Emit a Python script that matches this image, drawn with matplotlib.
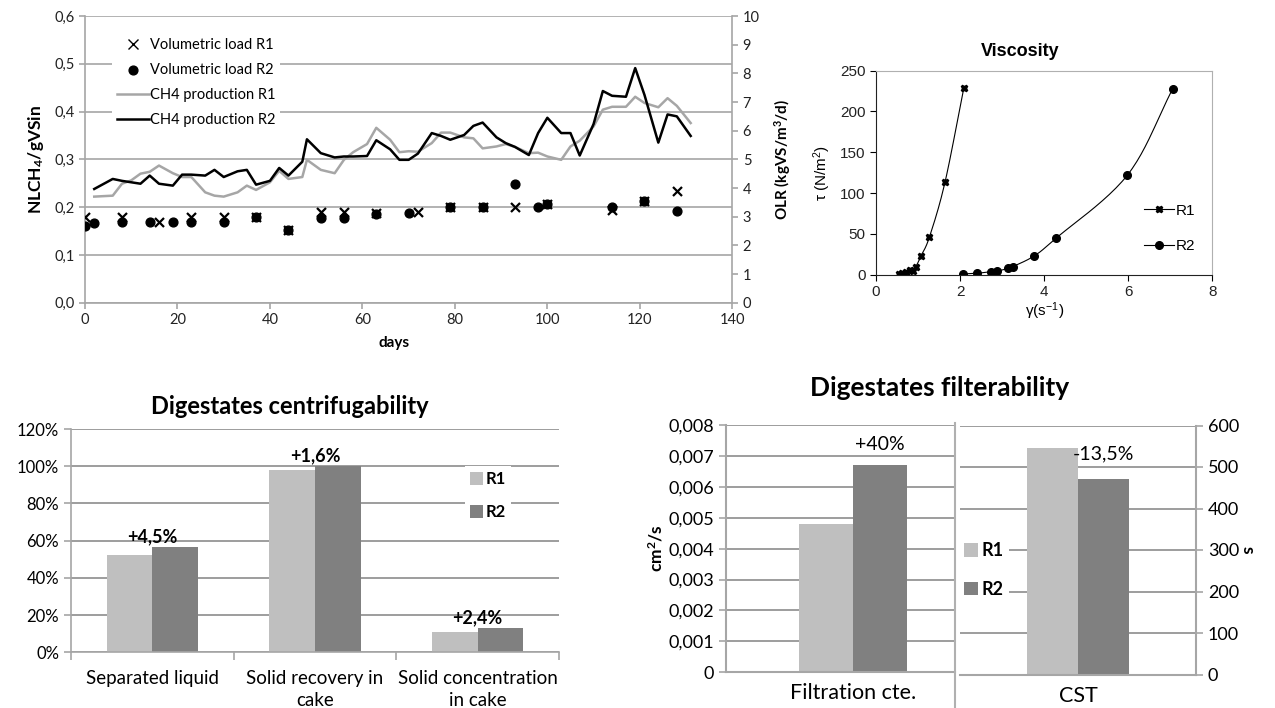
import matplotlib
matplotlib.use('Agg')
import matplotlib.pyplot as plt
import numpy as np
from matplotlib.ticker import FuncFormatter, MultipleLocator
from matplotlib.lines import Line2D

plt.rcParams['font.family'] = ['Lato', 'DejaVu Sans']
plt.rcParams['mathtext.default'] = 'regular'

# methane production (NL CH4 / g VS in)
days = [2, 6, 8, 10, 12, 14, 16, 19, 21, 23, 26, 28, 30, 33, 35, 37, 40, 42, 44, 47,
        48, 51, 54, 56, 58, 61, 63, 66, 68, 70, 72, 75, 77, 79, 82, 84, 86, 89, 91, 93,
        96, 98, 100, 103, 105, 107, 110, 112, 114, 117, 119, 121, 124, 126, 128, 131]
ch4_r1 = [0.222, 0.224, 0.249, 0.256, 0.270, 0.274, 0.287, 0.271, 0.263, 0.263, 0.231,
          0.224, 0.222, 0.231, 0.245, 0.236, 0.252, 0.276, 0.259, 0.263, 0.299, 0.278,
          0.271, 0.299, 0.315, 0.332, 0.366, 0.341, 0.315, 0.317, 0.316, 0.334, 0.356,
          0.356, 0.346, 0.344, 0.323, 0.327, 0.332, 0.326, 0.313, 0.314, 0.306, 0.299,
          0.327, 0.339, 0.369, 0.404, 0.410, 0.410, 0.431, 0.418, 0.409, 0.428, 0.412,
          0.376]
ch4_r2 = [0.238, 0.259, 0.255, 0.252, 0.249, 0.266, 0.249, 0.245, 0.268, 0.268, 0.266,
          0.278, 0.263, 0.275, 0.278, 0.247, 0.255, 0.282, 0.266, 0.295, 0.342, 0.313,
          0.304, 0.306, 0.306, 0.307, 0.340, 0.321, 0.299, 0.299, 0.312, 0.355, 0.349,
          0.341, 0.351, 0.370, 0.377, 0.346, 0.334, 0.326, 0.309, 0.355, 0.387, 0.355,
          0.355, 0.308, 0.374, 0.443, 0.433, 0.431, 0.491, 0.435, 0.335, 0.394, 0.390,
          0.349]

# organic loading rate (kgVS/m3/d)
olr_days_r1 = [0, 8, 16, 23, 30, 37, 44, 51, 56, 63, 72, 79, 86, 93, 100, 114, 121, 128]
olr_r1 = [2.98, 3.00, 2.83, 3.00, 3.00, 3.00, 2.52, 3.16, 3.16, 3.12, 3.15, 3.35, 3.35,
          3.35, 3.44, 3.23, 3.55, 3.90]
olr_days_r2 = [0, 2, 8, 14, 19, 23, 30, 37, 44, 51, 56, 63, 70, 79, 86, 93, 98, 100,
               114, 121, 128]
olr_r2 = [2.68, 2.77, 2.83, 2.83, 2.83, 2.83, 2.83, 3.00, 2.52, 2.94, 2.96, 3.10, 3.12,
          3.33, 3.33, 4.13, 3.33, 3.44, 3.35, 3.55, 3.21]

# rheogram
shear_r1 = [0.55, 0.62, 0.72, 0.80, 0.87, 0.95, 1.07, 1.27, 1.64, 2.09]
stress_r1 = [0.5, 1.5, 3.0, 5.5, 5.0, 10.0, 23.0, 46.0, 113.0, 229.0]
shear_r2 = [2.06, 2.40, 2.73, 2.89, 3.15, 3.25, 3.76, 4.28, 5.98, 7.06]
stress_r2 = [0.9, 1.7, 3.7, 4.5, 7.8, 9.8, 22.9, 44.6, 122.0, 228.0]

# centrifugation
centri_cats = ['Separated liquid', 'Solid recovery in\ncake', 'Solid concentration\nin cake']
centri_r1 = [0.523, 0.981, 0.107]
centri_r2 = [0.566, 0.999, 0.129]
centri_labels = ['+4,5%', '+1,6%', '+2,4%']

# filtration
filt_r1 = [0.00479]
filt_r2 = [0.00670]
filt_label = '+40%'
cst_r1 = [545.0]
cst_r2 = [471.0]
cst_label = '-13,5%'

light = '#bfbfbf'
dark = '#808080'
grid_c = '#a6a6a6'
W, H = 1275, 708


def box(x0, y0, x1, y1):
    # pixel box -> figure fraction [left, bottom, width, height]
    return [x0 / W, 1 - y1 / H, (x1 - x0) / W, (y1 - y0) / H]


def comma(fmt):
    return FuncFormatter(lambda v, p: '0' if v == 0 and fmt == 'z' else
                         (f'{v:.3f}' if fmt == 'z' else f'{v:.1f}').replace('.', ','))


def smooth(x, y, n=24):
    x = np.asarray(x, float)
    y = np.asarray(y, float)
    px = np.concatenate([[2 * x[0] - x[1]], x, [2 * x[-1] - x[-2]]])
    py = np.concatenate([[2 * y[0] - y[1]], y, [2 * y[-1] - y[-2]]])
    t = np.linspace(0, 1, n)
    xs, ys = [], []
    for i in range(1, len(px) - 2):
        for arr, out in ((px, xs), (py, ys)):
            p0, p1, p2, p3 = arr[i - 1:i + 3]
            out.append(0.5 * (2 * p1 + (-p0 + p2) * t + (2 * p0 - 5 * p1 + 4 * p2 - p3) * t ** 2
                              + (-p0 + 3 * p1 - 3 * p2 + p3) * t ** 3))
    return np.concatenate(xs), np.concatenate(ys)


fig = plt.figure(figsize=(12.75, 7.08), dpi=100)

# ---- CH4 production / OLR ----
ax = fig.add_axes(box(85, 16, 732.3, 302.7))
ax.plot(days, ch4_r1, color='#a6a6a6', lw=1.8, label='CH4 production R1')
ax.plot(days, ch4_r2, color='black', lw=1.8, label='CH4 production R2')
ax.set_xlim(0, 140)
ax.set_ylim(0, 0.6)
ax.xaxis.set_major_locator(MultipleLocator(20))
ax.yaxis.set_major_locator(MultipleLocator(0.1))
ax.yaxis.set_major_formatter(comma('f'))
ax.grid(axis='y', color=grid_c, lw=1.2)
ax.set_axisbelow(True)
for s in ['top', 'right']:
    ax.spines[s].set_visible(False)
for s in ['left', 'bottom']:
    ax.spines[s].set_color(grid_c)
    ax.spines[s].set_linewidth(1.2)
ax.tick_params(colors=grid_c, labelcolor='#222222', labelsize=10.5, length=4, width=1.2)
ax.set_xlabel('days', fontsize=11, fontweight='bold')
ax.xaxis.set_label_coords(0.477, -0.115)
ax.set_ylabel('NLCH$_4$/gVSin', fontsize=12.5, fontweight='bold', labelpad=6)

ax2 = ax.twinx()
ax2.scatter(olr_days_r1, olr_r1, marker='x', s=42, color='black', linewidths=1.6,
            label='Volumetric load R1', zorder=3)
ax2.scatter(olr_days_r2, olr_r2, marker='o', s=40, color='black', label='Volumetric load R2', zorder=3)
ax2.set_ylim(0, 10)
ax2.yaxis.set_major_locator(MultipleLocator(1))
for s in ['top', 'left', 'bottom']:
    ax2.spines[s].set_visible(False)
ax2.spines['right'].set_color(grid_c)
ax2.spines['right'].set_linewidth(1.2)
ax2.tick_params(colors=grid_c, labelcolor='#222222', labelsize=10.5, length=4, width=1.2)
ax2.set_ylabel('OLR (kgVS/m$^3$/d)', fontsize=11, fontweight='bold', labelpad=9)

h1, l1 = ax2.get_legend_handles_labels()
h0, l0 = ax.get_legend_handles_labels()
h1[0] = Line2D([], [], marker='x', color='black', ls='none', markersize=7, mew=1.0)
leg = ax2.legend(h1 + h0, l1 + l0, loc='upper left', bbox_to_anchor=(0.031, 0.965),
                 fontsize=10.5, frameon=True, facecolor='white', edgecolor='none',
                 framealpha=1, fancybox=False, handlelength=2.2, labelspacing=0.76,
                 handletextpad=0.1, borderpad=0.3)

# ---- Viscosity ----
axv = fig.add_axes(box(876, 70.7, 1212.3, 274.7))
for xs, ys, mk, lab in ((shear_r1, stress_r1, 'X', 'R1'), (shear_r2, stress_r2, 'o', 'R2')):
    sx, sy = smooth(xs, ys)
    axv.plot(sx, sy, color='black', lw=0.8)
    axv.plot(xs, ys, ls='none', marker=mk, color='black', markersize=5.5 if mk == 'o' else 5)
axv.set_xlim(0, 8)
axv.set_ylim(0, 250)
axv.xaxis.set_major_locator(MultipleLocator(2))
axv.yaxis.set_major_locator(MultipleLocator(50))
for s in ['top', 'right']:
    axv.spines[s].set_color('#b0b0b0')
for s in ['left', 'bottom']:
    axv.spines[s].set_color('#222222')
axv.tick_params(labelsize=11, length=4, width=0.8, labelcolor='#222222',
                labelfontfamily='Liberation Sans')
axv.set_ylabel('\u03c4 (N/m$^2$)', fontsize=11, family='Liberation Sans', labelpad=5)
axv.set_xlabel('\u03b3(s$^{-1}$)', fontsize=11, family='Liberation Sans', labelpad=1)
vh = [Line2D([], [], color='black', lw=0.8, marker='X', markersize=5),
      Line2D([], [], color='black', lw=0.8, marker='o', markersize=5.5)]
axv.legend(vh, ['R1', 'R2'], loc='upper left', bbox_to_anchor=(0.755, 0.415), frameon=False,
           prop={'family': 'Liberation Sans', 'size': 11}, handlelength=2.0,
           labelspacing=1.38, handletextpad=0.1)
fig.text(1020 / W, 1 - 51.7 / H, 'Viscosity', ha='center', va='center', fontsize=13,
         fontweight='bold', family='Liberation Sans')

# ---- Centrifugability ----
axc = fig.add_axes(box(71, 429, 559, 652.3))
pos = np.arange(len(centri_cats))
bw = 0.28
axc.bar(pos - bw / 2, centri_r1, bw, color=light, label='R1', zorder=2)
axc.bar(pos + bw / 2, centri_r2, bw, color=dark, label='R2', zorder=2)
for i, txt in enumerate(centri_labels):
    axc.annotate(txt, (pos[i], max(centri_r1[i], centri_r2[i])), xytext=(0, 1.5),
                 textcoords='offset points', ha='center', va='bottom', fontsize=13,
                 fontweight='bold')
axc.set_xlim(-0.5, 2.5)
axc.set_ylim(0, 1.2)
axc.yaxis.set_major_locator(MultipleLocator(0.2))
axc.yaxis.set_major_formatter(FuncFormatter(lambda v, p: f'{v * 100:.0f}%'))
axc.set_xticks(np.arange(-0.5, 3, 1))
axc.set_xticklabels([])
axc.set_xticks(pos, minor=True)
axc.set_xticklabels(centri_cats, minor=True, fontsize=13.5, linespacing=1.35)
axc.tick_params(axis='x', which='minor', length=0, pad=13)
axc.tick_params(axis='x', which='major', length=6, width=1.2, color=grid_c)
axc.tick_params(axis='y', length=5, width=1.2, color=grid_c, labelsize=12)
axc.grid(axis='y', color='#8c8c8c', lw=1.2, zorder=0)
axc.set_axisbelow(True)
for s in ['top', 'right']:
    axc.spines[s].set_visible(False)
for s in ['left', 'bottom']:
    axc.spines[s].set_color(grid_c)
    axc.spines[s].set_linewidth(1.2)
axc.legend(loc='upper left', bbox_to_anchor=(0.79, 0.87), frameon=True, facecolor='white',
           edgecolor='none', framealpha=1, fancybox=False, handlelength=0.8, handleheight=0.8,
           handletextpad=0.15, labelspacing=1.0, prop={'weight': 'bold', 'size': 12},
           borderpad=0.3)
fig.text(290 / W, 1 - 407 / H, 'Digestates centrifugability', ha='center', va='center',
         fontsize=17, fontweight='bold')

# ---- Filterability ----
axf = fig.add_axes(box(725.7, 425, 955, 672.3))
fbw = 0.212
axf.bar([-fbw / 2], filt_r1, fbw, color=light, zorder=2)
axf.bar([fbw / 2], filt_r2, fbw, color=dark, zorder=2)
axf.annotate(filt_label, (fbw / 2, filt_r2[0]), xytext=(0, 9), textcoords='offset points',
             ha='center', va='bottom', fontsize=14)
axf.set_xlim(-0.5, 0.4)
axf.set_ylim(0, 0.008)
axf.yaxis.set_major_locator(MultipleLocator(0.001))
axf.yaxis.set_major_formatter(comma('z'))
axf.set_xticks([0], ['Filtration cte.'])
axf.tick_params(axis='x', length=0, pad=8, labelsize=15.5)
axf.tick_params(axis='y', length=5, width=1.2, color=grid_c, labelsize=13)
axf.grid(axis='y', color='#8c8c8c', lw=1.2, zorder=0)
axf.set_axisbelow(True)
axf.spines['top'].set_visible(False)
axf.spines['right'].set_visible(False)
for s in ['left', 'bottom']:
    axf.spines[s].set_color(grid_c)
    axf.spines[s].set_linewidth(1.5)
axf.set_ylabel('cm$^2$/s', fontsize=12.5, fontweight='bold', labelpad=2)

axs = fig.add_axes(box(960, 425.5, 1196, 674.5))
sbw = 0.218
axs.bar([-sbw / 2], cst_r1, sbw, color=light, label='R1', zorder=2)
axs.bar([sbw / 2], cst_r2, sbw, color=dark, label='R2', zorder=2)
axs.annotate(cst_label, (sbw / 2, cst_r2[0]), xytext=(0, 12), textcoords='offset points',
             ha='center', va='bottom', fontsize=14)
axs.set_xlim(-0.5, 0.5)
axs.set_ylim(0, 600)
axs.yaxis.set_major_locator(MultipleLocator(100))
axs.yaxis.tick_right()
axs.yaxis.set_label_position('right')
axs.set_xticks([0], ['CST'])
axs.tick_params(axis='x', length=0, pad=8, labelsize=15.5)
axs.tick_params(axis='y', length=5, width=1.2, color=grid_c, labelsize=13)
axs.grid(axis='y', color='#8c8c8c', lw=1.2, zorder=0)
axs.set_axisbelow(True)
axs.spines['top'].set_visible(False)
axs.spines['left'].set_visible(False)
for s in ['right', 'bottom']:
    axs.spines[s].set_color(grid_c)
    axs.spines[s].set_linewidth(1.5)
axs.set_ylabel('s', fontsize=12.5, fontweight='bold', rotation=270, labelpad=12)
axs.legend(loc='center left', bbox_to_anchor=(-0.045, 0.42), frameon=True, facecolor='white',
           edgecolor='none', framealpha=1, fancybox=False, handlelength=0.8, handleheight=0.8,
           handletextpad=0.2, labelspacing=1.2, prop={'weight': 'bold', 'size': 13},
           borderpad=0.3)
fig.add_artist(Line2D([955 / W, 955 / W], [0, 1 - 423 / H], color='#b0b0b0', lw=1.5))
fig.text(940 / W, 1 - 388 / H, 'Digestates filterability', ha='center', va='center',
         fontsize=19, fontweight='bold')

fig.savefig('out.png', dpi=100)
